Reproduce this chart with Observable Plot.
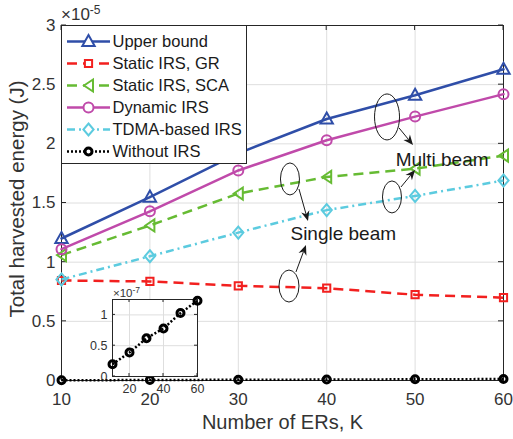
<!DOCTYPE html>
<html>
<head>
<meta charset="utf-8">
<script src="https://cdn.jsdelivr.net/npm/d3@7"></script>
<script src="https://cdn.jsdelivr.net/npm/@observablehq/plot@0.6"></script>
<style>
  body { margin: 0; background: #fff; }
  #wrap { position: relative; width: 513px; height: 439px; overflow: hidden; }
</style>
</head>
<body>
<div id="wrap"></div>
<script>
const FONT = '"Liberation Sans", Arial, Helvetica, sans-serif';

// ---------------- data ----------------
const K = [10, 20, 30, 40, 50, 60];
const upperBound = [1.20, 1.55, 1.92, 2.21, 2.41, 2.63];       // ×10^-5 J
const staticGR   = [0.845, 0.837, 0.80, 0.78, 0.725, 0.70];
const staticSCA  = [1.06, 1.31, 1.58, 1.72, 1.79, 1.90];
const dynamicIRS = [1.11, 1.43, 1.775, 2.03, 2.23, 2.42];
const tdmaIRS    = [0.854, 1.05, 1.25, 1.44, 1.56, 1.69];
const withoutIRS = [0.20, 0.39, 0.62, 0.78, 1.03, 1.23];       // ×10^-7 J
const seriesNames = ["Upper bound", "Static IRS, GR", "Static IRS, SCA", "Dynamic IRS", "TDMA-based IRS", "Without IRS"];
const xTicks = [10, 20, 30, 40, 50, 60];
const yTicks = [0, 0.5, 1, 1.5, 2, 2.5, 3];
const insetXTicks = [20, 40, 60];
const insetYTicks = [0, 0.5, 1];

// annotations (data coordinates)
const ellipseX = [46.88, 47.44, 35.90, 35.79];
const ellipseY = [2.223, 1.547, 1.699, 0.794];
const arrowX1 = [48.24, 48.46, 36.92, 36.58];
const arrowY1 = [2.130, 1.631, 1.614, 0.913];
const arrowX2 = [49.82, 50.05, 37.94, 37.71];
const arrowY2 = [1.986, 1.775, 1.344, 1.141];
const noteText = ["Multi beam", "Single beam"];
const noteX = [47.8, 35.9];
const noteY = [1.863, 1.236];

// ---------------- styles ----------------
const ellipseRx = [12.5, 9.5, 9.5, 10];
const ellipseRy = [23, 16, 16, 16];

const mk = f => ({ draw(c, size) { f(c, Math.sqrt(size / Math.PI)); } });
const SYM = {
  triUp: mk((c, r) => { c.moveTo(0, -r); c.lineTo(r * 0.95, r * 0.7); c.lineTo(-r * 0.95, r * 0.7); c.closePath(); }),
  square: mk((c, r) => { c.rect(-r, -r, 2 * r, 2 * r); }),
  triLeft: mk((c, r) => { c.moveTo(-r * 0.75, 0); c.lineTo(r * 0.75, -r); c.lineTo(r * 0.75, r); c.closePath(); }),
  circle: mk((c, r) => { c.moveTo(r, 0); c.arc(0, 0, r, 0, 2 * Math.PI); }),
  diamond: mk((c, r) => { c.moveTo(0, -r); c.lineTo(r * 0.85, 0); c.lineTo(0, r); c.lineTo(-r * 0.85, 0); c.closePath(); })
};
const styles = [
  { color: "#2F4EA8", dash: null,      sym: SYM.triUp,   r: 6.5, sw: 2 },
  { color: "#F2201F", dash: "10,6",    sym: SYM.square,  r: 3.6, sw: 2 },
  { color: "#66BB33", dash: "10,6",    sym: SYM.triLeft, r: 6,   sw: 2 },
  { color: "#C04AAA", dash: null,      sym: SYM.circle,  r: 5,   sw: 2 },
  { color: "#5CCBDF", dash: "8,4,2,4", sym: SYM.diamond, r: 6,   sw: 2 },
  { color: "#000000", dash: "2,2",     sym: SYM.circle,  r: 3.5, sw: 3 }
];

const seriesValues = [upperBound, staticGR, staticSCA, dynamicIRS, tdmaIRS, withoutIRS.map(v => v / 100)];
const seriesData = seriesValues.map(vals => K.map((k, i) => ({ k, v: vals[i] })));
const insetData = K.map((k, i) => ({ k, v: withoutIRS[i] }));

// ---------------- helpers ----------------
function boxTicks(xt, yt, len, color) {
  return (index, scales, values, dims) => {
    const { x, y } = scales;
    const l = dims.marginLeft, t = dims.marginTop;
    const r = dims.width - dims.marginRight, b = dims.height - dims.marginBottom;
    const g = d3.create("svg:g").attr("stroke", color).attr("stroke-width", 1).attr("fill", "none");
    for (const v of xt) { const p = x(v); g.append("path").attr("d", `M${p},${b}V${b - len}M${p},${t}V${t + len}`); }
    for (const v of yt) { const p = y(v); g.append("path").attr("d", `M${l},${p}H${l + len}M${r},${p}H${r - len}`); }
    return g.node();
  };
}
function expLabel(base, exp, fs, fsExp, dx, dy, raise) {
  return (index, scales, values, dims) => {
    const t = d3.create("svg:text")
      .attr("x", dims.marginLeft + dx).attr("y", dims.marginTop + dy)
      .attr("text-anchor", "start")
      .attr("font-size", fs).attr("fill", "#333").attr("font-family", FONT);
    t.append("tspan").text(base);
    t.append("tspan").attr("font-size", fsExp).attr("dy", -raise).text(exp);
    return t.node();
  };
}
const annotations = (index, { x, y }) => {
  const g = d3.create("svg:g");
  ellipseX.forEach((ex, i) => {
    g.append("ellipse").attr("cx", x(ex)).attr("cy", y(ellipseY[i]))
      .attr("rx", ellipseRx[i]).attr("ry", ellipseRy[i])
      .attr("fill", "none").attr("stroke", "#1a1a1a").attr("stroke-width", 1);
  });
  arrowX1.forEach((ax, i) => {
    const x1 = x(ax), y1 = y(arrowY1[i]), x2 = x(arrowX2[i]), y2 = y(arrowY2[i]);
    const a = Math.atan2(y2 - y1, x2 - x1), ca = Math.cos(a), sa = Math.sin(a);
    const L = 10, W = 4.2, N = 3;
    const bx = x2 - (L - N) * ca, by = y2 - (L - N) * sa;
    g.append("line").attr("x1", x1).attr("y1", y1).attr("x2", bx).attr("y2", by)
      .attr("stroke", "#1a1a1a").attr("stroke-width", 1);
    const p = [[x2, y2], [x2 - L * ca - W * sa, y2 - L * sa + W * ca], [bx, by], [x2 - L * ca + W * sa, y2 - L * sa - W * ca]];
    g.append("path").attr("d", "M" + p.map(q => q.join(",")).join("L") + "Z").attr("fill", "#1a1a1a");
  });
  return g.node();
};

const wrap = document.getElementById("wrap");
function place(el, left, top) {
  el.style.position = "absolute";
  el.style.left = left + "px";
  el.style.top = top + "px";
  wrap.appendChild(el);
}

// ---------------- main chart ----------------
const seriesMarks = [];
styles.forEach((s, i) => {
  seriesMarks.push(Plot.line(seriesData[i], {
    x: "k", y: "v", stroke: s.color, strokeWidth: 2.5,
    strokeDasharray: s.dash, strokeLinecap: s.dash ? "butt" : "round", strokeLinejoin: "round"
  }));
  seriesMarks.push(Plot.dot(seriesData[i], {
    x: "k", y: "v", symbol: s.sym, r: s.r, stroke: s.color, strokeWidth: s.sw, fill: "none"
  }));
});

const main = Plot.plot({
  width: 513, height: 439,
  marginLeft: 61, marginRight: 10, marginTop: 25, marginBottom: 59,
  x: { domain: [10, 60] },
  y: { domain: [0, 3] },
  style: { background: "transparent", fontFamily: FONT, overflow: "visible" },
  marks: [
    Plot.gridX(xTicks, { stroke: "#dedede", strokeOpacity: 1 }),
    Plot.gridY(yTicks, { stroke: "#dedede", strokeOpacity: 1 }),
    Plot.frame({ stroke: "#262626" }),
    boxTicks(xTicks, yTicks, 5, "#262626"),
    Plot.axisX(xTicks, { tickSize: 0, tickPadding: 12, fontSize: 17, color: "#333", label: null }),
    Plot.axisY(yTicks, { tickSize: 0, tickPadding: 6, fontSize: 17, color: "#333", label: null, tickFormat: d => String(d) }),
    ...seriesMarks,
    annotations,
    Plot.text(noteText, { x: (d, i) => noteX[i], y: (d, i) => noteY[i], text: d => d, textAnchor: "start", fontSize: 19, fill: "#1a1a1a" }),
    Plot.text(["Number of ERs, K"], { frameAnchor: "bottom", lineAnchor: "top", dy: 34, fontSize: 20, fill: "#333" }),
    Plot.text(["Total harvested energy (J)"], { frameAnchor: "left", textAnchor: "middle", rotate: -90, dx: -44, dy: -4, fontSize: 20.5, fill: "#333" }),
    expLabel("×10", "-5", 17, 12, 0, -5, 6.5)
  ]
});
place(main, 0, 0);

// ---------------- legend ----------------
const legendMarks = [Plot.frame({ fill: "white", stroke: "#262626" })];
styles.forEach((s, i) => {
  legendMarks.push(Plot.ruleY([seriesNames[i]], {
    y: d => d, stroke: s.color, strokeWidth: 2.5, strokeDasharray: s.dash,
    strokeLinecap: "butt", insetLeft: 6, insetRight: 136
  }));
  legendMarks.push(Plot.dot([seriesNames[i]], {
    y: d => d, frameAnchor: "left", dx: 27, symbol: s.sym, r: s.r,
    stroke: s.color, strokeWidth: s.sw, fill: "white"
  }));
});
legendMarks.push(Plot.text(seriesNames, {
  y: d => d, text: d => d, frameAnchor: "left", dx: 51, textAnchor: "start", fontSize: 16.5, fill: "#1a1a1a"
}));
const legend = Plot.plot({
  width: 185, height: 138, margin: 0,
  y: { type: "point", domain: seriesNames, range: [16, 126], padding: 0, axis: null },
  style: { background: "transparent", fontFamily: FONT, overflow: "visible" },
  marks: legendMarks
});
place(legend, 61, 25);

// ---------------- inset ----------------
const inset = Plot.plot({
  width: 125, height: 122,
  marginLeft: 32, marginRight: 8, marginTop: 21, marginBottom: 24,
  x: { domain: [10, 60] },
  y: { domain: [0, 1.25] },
  style: { background: "transparent", fontFamily: FONT, overflow: "visible" },
  marks: [
    Plot.frame({ fill: "white" }),
    Plot.gridX(insetXTicks, { stroke: "#dedede", strokeOpacity: 1 }),
    Plot.gridY(insetYTicks, { stroke: "#dedede", strokeOpacity: 1 }),
    Plot.frame({ stroke: "#262626" }),
    boxTicks(insetXTicks, insetYTicks, 3, "#262626"),
    Plot.axisX(insetXTicks, { tickSize: 0, tickPadding: 8, fontSize: 12.5, color: "#333", label: null }),
    Plot.axisY(insetYTicks, { tickSize: 0, tickPadding: 5, fontSize: 12.5, color: "#333", label: null, tickFormat: d => String(d) }),
    Plot.line(insetData, { x: "k", y: "v", stroke: "#000", strokeWidth: 2.5, strokeDasharray: "2,2", strokeLinecap: "butt" }),
    Plot.dot(insetData, { x: "k", y: "v", symbol: SYM.circle, r: 3.5, stroke: "#000", strokeWidth: 3, fill: "none" }),
    expLabel("×10", "-7", 11.5, 8.5, 1, -2, 4.5)
  ]
});
place(inset, 80, 278);
</script>
</body>
</html>
